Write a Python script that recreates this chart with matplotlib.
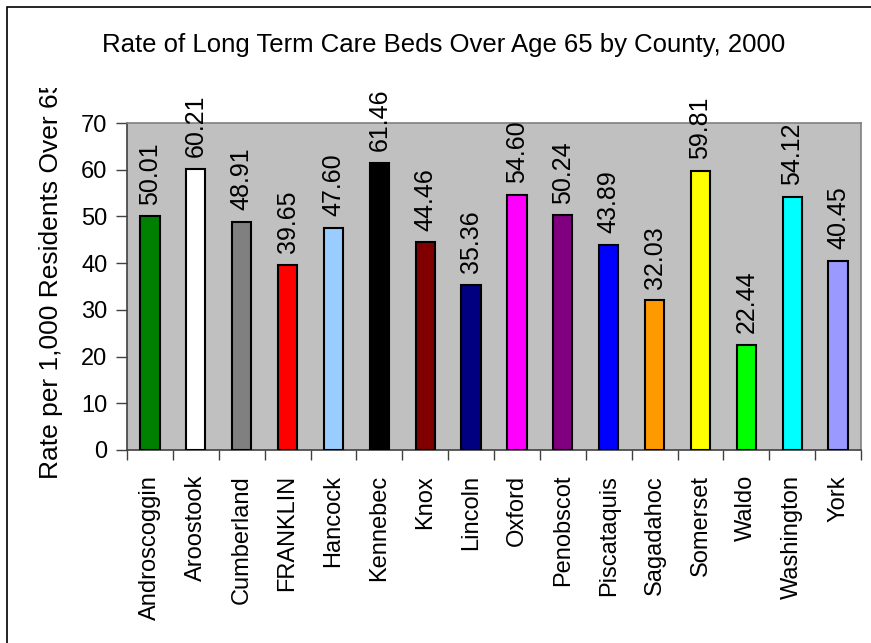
import matplotlib
matplotlib.use("Agg")
import matplotlib.pyplot as plt
from matplotlib.patches import Rectangle

counties = ["Androscoggin", "Aroostook", "Cumberland", "FRANKLIN", "Hancock",
            "Kennebec", "Knox", "Lincoln", "Oxford", "Penobscot", "Piscataquis",
            "Sagadahoc", "Somerset", "Waldo", "Washington", "York"]
rates = [50.01, 60.21, 48.91, 39.65, 47.60, 61.46, 44.46, 35.36, 54.60, 50.24,
         43.89, 32.03, 59.81, 22.44, 54.12, 40.45]
colors = ["#008000", "#FFFFFF", "#808080", "#FF0000", "#99CCFF", "#000000",
          "#800000", "#000080", "#FF00FF", "#800080", "#0000FF", "#FF9900",
          "#FFFF00", "#00FF00", "#00FFFF", "#9999FF"]
yticks = [0, 10, 20, 30, 40, 50, 60, 70]

plt.rcParams['font.family'] = ['Liberation Sans', 'DejaVu Sans']

W, H = 871, 643
fig = plt.figure(figsize=(W / 100, H / 100), dpi=100)

# outer chart border
fig.patches.append(Rectangle((7 / W, -0.1), 1.2, 1 - 7 / H + 0.1, transform=fig.transFigure,
                             fill=False, edgecolor="black", linewidth=1.2))

ax = fig.add_axes([127 / W, 1 - 450 / H, 734 / W, 327 / H])
ax.set_facecolor("#C0C0C0")
x = list(range(len(counties)))
ax.bar(x, rates, width=0.42, color=colors, edgecolor="black", linewidth=1.5, zorder=3)
for i, v in zip(x, rates):
    ax.annotate(f"{v:.2f}", (i, v), xytext=(0, 8.5), textcoords="offset points",
                rotation=90, ha="center", va="bottom", fontsize=18, clip_on=False)

ax.set_xlim(-0.5, len(counties) - 0.5)
ax.set_ylim(0, 70)
ax.set_yticks(yticks)
ax.set_yticklabels([str(t) for t in yticks], fontsize=17)
ax.set_xticks(x)
ax.set_xticklabels(counties, rotation=90, fontsize=17)
ax.set_xticks([i - 0.5 for i in range(len(counties) + 1)], minor=True)
ax.tick_params(axis="x", which="major", length=0, pad=18)
ax.tick_params(axis="x", which="minor", length=7, width=1, color="#404040", direction="out")
ax.tick_params(axis="y", length=8, width=1, color="#404040", direction="out", pad=6)

for s in ["left", "bottom"]:
    ax.spines[s].set_color("#404040")
    ax.spines[s].set_linewidth(1.2)
for s in ["top", "right"]:
    ax.spines[s].set_color("#808080")
    ax.spines[s].set_linewidth(1.2)

fig.text(444 / W, 1 - 52 / H, "Rate of Long Term Care Beds Over Age 65 by County, 2000",
         ha="center", va="baseline", fontsize=18.5)

yl = fig.text(51 / W, 1 - 279 / H, "Rate per 1,000 Residents Over 65", rotation=90,
              ha="center", va="center", fontsize=19)
clip = Rectangle((0, 0), 1, 1 - 88 / H, transform=fig.transFigure)
yl.set_clip_path(clip)

fig.savefig("out.png", dpi=100)
